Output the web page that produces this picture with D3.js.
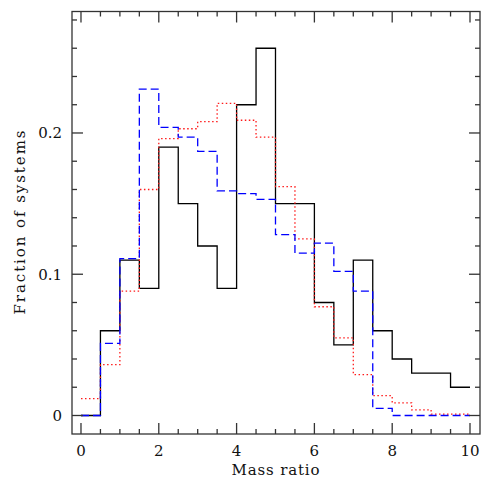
<!DOCTYPE html>
<html>
<head>
<meta charset="utf-8">
<script src="https://cdn.jsdelivr.net/npm/d3@7"></script>
<style>
  body { margin: 0; background: #fff; }
  text { font-family: "DejaVu Serif", "Liberation Serif", serif; fill: #111; }
</style>
</head>
<body>
<div id="chart"></div>
<script>
var width = 491,
    height = 486;

// bin left edges (mass ratio), last edge closes the histogram
var binEdges = [0, 0.5, 1, 1.5, 2, 2.5, 3, 3.5, 4, 4.5, 5, 5.5, 6, 6.5, 7, 7.5, 8, 8.5, 9, 9.5, 10];

// fraction of systems per bin
var observed = [0, 0.060, 0.110, 0.090, 0.190, 0.150, 0.120, 0.090, 0.220, 0.260,
                0.150, 0.150, 0.080, 0.050, 0.110, 0.060, 0.040, 0.030, 0.030, 0.020];
var modelRed = [0.012, 0.036, 0.088, 0.160, 0.196, 0.203, 0.208, 0.221, 0.209, 0.197,
                0.162, 0.125, 0.077, 0.055, 0.029, 0.014, 0.009, 0.004, 0.001, 0.001];
var modelBlue = [0, 0.051, 0.111, 0.231, 0.204, 0.197, 0.187, 0.159, 0.157, 0.153,
                 0.128, 0.115, 0.122, 0.102, 0.088, 0.005, 0, 0, 0, 0];

var xMajor = [0, 2, 4, 6, 8, 10];
var xMinor = [0, 0.5, 1, 1.5, 2, 2.5, 3, 3.5, 4, 4.5, 5, 5.5, 6, 6.5, 7, 7.5, 8, 8.5, 9, 9.5, 10];
var yMajor = [0, 0.1, 0.2];
var yMinor = [0, 0.02, 0.04, 0.06, 0.08, 0.1, 0.12, 0.14, 0.16, 0.18, 0.2, 0.22, 0.24, 0.26, 0.28];

var frame = {left: 72, right: 480, top: 11.5, bottom: 434};

var x = d3.scaleLinear().domain([-0.231, 10.257]).range([frame.left, frame.right]);
var y = d3.scaleLinear().domain([-0.0131, 0.286]).range([frame.bottom, frame.top]);

var svg = d3.select("#chart").append("svg")
    .attr("width", width)
    .attr("height", height);

// ******* step histograms ******* //
var step = d3.line()
    .x(function(d) { return x(d[0]); })
    .y(function(d) { return y(d[1]); })
    .curve(d3.curveStepAfter);

function stepPoints(vals) {
    var pts = vals.map(function(v, i) { return [binEdges[i], v]; });
    pts.push([binEdges[vals.length], vals[vals.length - 1]]);
    return pts;
}

var series = [
    {vals: observed, color: "#000", dash: null, w: 1.3},
    {vals: modelRed, color: "#ff1a1a", dash: "1.5,2.5", w: 1.3},
    {vals: modelBlue, color: "#0000ff", dash: "8,4", w: 1.3}
];

svg.append("g").attr("class", "hists")
    .selectAll("path")
    .data(series)
    .enter().append("path")
    .attr("fill", "none")
    .attr("stroke", function(d) { return d.color; })
    .attr("stroke-width", function(d) { return d.w; })
    .attr("stroke-dasharray", function(d) { return d.dash; })
    .attr("d", function(d) { return step(stepPoints(d.vals)); });

// ******* frame and ticks ******* //
var axes = svg.append("g").attr("stroke", "#333").attr("stroke-width", 1.3);

axes.append("rect")
    .attr("x", frame.left).attr("y", frame.top)
    .attr("width", frame.right - frame.left)
    .attr("height", frame.bottom - frame.top)
    .attr("fill", "none");

function isMajor(list, v) {
    return list.some(function(m) { return Math.abs(m - v) < 1e-9; });
}

xMinor.forEach(function(v) {
    var len = isMajor(xMajor, v) ? 11 : 5;
    axes.append("line").attr("x1", x(v)).attr("x2", x(v))
        .attr("y1", frame.bottom).attr("y2", frame.bottom - len);
    axes.append("line").attr("x1", x(v)).attr("x2", x(v))
        .attr("y1", frame.top).attr("y2", frame.top + len);
});

yMinor.forEach(function(v) {
    var len = isMajor(yMajor, v) ? 11 : 5;
    axes.append("line").attr("y1", y(v)).attr("y2", y(v))
        .attr("x1", frame.left).attr("x2", frame.left + len);
    axes.append("line").attr("y1", y(v)).attr("y2", y(v))
        .attr("x1", frame.right).attr("x2", frame.right - len);
});

// ******* labels ******* //
svg.append("g").selectAll("text")
    .data(xMajor)
    .enter().append("text")
    .attr("x", function(d) { return x(d); })
    .attr("y", 456)
    .attr("text-anchor", "middle")
    .attr("font-size", 15)
    .text(function(d) { return d; });

svg.append("g").selectAll("text")
    .data(yMajor)
    .enter().append("text")
    .attr("x", 62)
    .attr("y", function(d) { return y(d) + 5.5; })
    .attr("text-anchor", "end")
    .attr("font-size", 15)
    .text(function(d) { return d === 0 ? "0" : d3.format(".1f")(d); });

svg.append("text")
    .attr("x", x(5))
    .attr("y", 475)
    .attr("text-anchor", "middle")
    .attr("font-size", 15)
    .attr("textLength", 88)
    .attr("lengthAdjust", "spacing")
    .text("Mass ratio");

svg.append("text")
    .attr("transform", "translate(25," + ((130 + 315) / 2) + ") rotate(-90)")
    .attr("text-anchor", "middle")
    .attr("font-size", 15)
    .attr("textLength", 184)
    .attr("lengthAdjust", "spacing")
    .text("Fraction of systems");
</script>
</body>
</html>
